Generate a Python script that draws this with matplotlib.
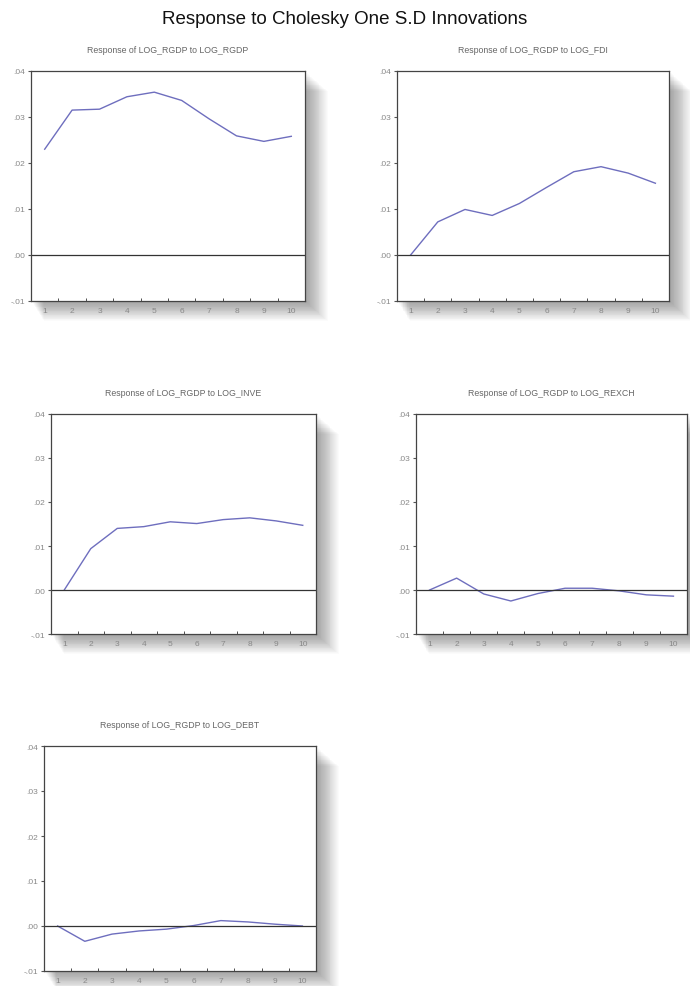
import matplotlib
matplotlib.use("Agg")
import matplotlib.pyplot as plt
from matplotlib.patches import Rectangle
import numpy as np

plt.rcParams['font.family'] = ['Liberation Sans Narrow', 'Liberation Sans', 'DejaVu Sans']

# data ------------------------------------------------------------------------
periods = np.arange(1, 11)
titles = ["Response of LOG_RGDP to LOG_RGDP",
          "Response of LOG_RGDP to LOG_FDI",
          "Response of LOG_RGDP to LOG_INVE",
          "Response of LOG_RGDP to LOG_REXCH",
          "Response of LOG_RGDP to LOG_DEBT"]
rgdp = [0.0230, 0.0315, 0.0317, 0.0344, 0.0354, 0.0336, 0.0296, 0.0259, 0.0247, 0.0258]
fdi = [0.0000, 0.0072, 0.0099, 0.0086, 0.0112, 0.0147, 0.0181, 0.0192, 0.0178, 0.0156]
inve = [0.0000, 0.0094, 0.0140, 0.0144, 0.0155, 0.0151, 0.0160, 0.0164, 0.0157, 0.0147]
rexch = [0.0000, 0.0027, -0.0009, -0.0025, -0.0008, 0.0004, 0.0004, -0.0002, -0.0011, -0.0014]
debt = [0.0000, -0.0034, -0.0018, -0.0011, -0.0007, 0.0001, 0.0012, 0.0009, 0.0004, 0.0000]
series = [rgdp, fdi, inve, rexch, debt]
yticks = [-0.01, 0.0, 0.01, 0.02, 0.03, 0.04]
ytick_labels = ["-.01", ".00", ".01", ".02", ".03", ".04"]

# panel boxes in pixels (left, top, right, bottom) -----------------------------
W, H = 690, 987
boxes = [(31, 72, 305, 302), (397, 72, 669, 302),
         (51, 415, 316, 635), (416, 415, 687, 635),
         (44, 747, 316, 972)]

fig = plt.figure(figsize=(W / 100, H / 100), dpi=100)
fig.text(0.5, 1 - 19 / H, "Response to Cholesky One S.D Innovations",
         ha='center', va='center', fontsize=13.5, color='#111111')

line_col = '#6e6ebe'
for (l, t, r, b), name, vals in zip(boxes, titles, series):
    # soft drop shadow --------------------------------------------------------
    for k in range(1, 26):
        fig.patches.append(Rectangle(((l + k * 0.5) / W, 1 - (b + k * 0.8) / H),
                                     (r - l + k * 0.4) / W, (b - t) / H,
                                     transform=fig.transFigure, facecolor='black',
                                     alpha=0.016, edgecolor='none', zorder=0))
    ax = fig.add_axes([l / W, 1 - b / H, (r - l) / W, (b - t) / H])
    ax.set_facecolor('white')
    ax.set_zorder(2)
    ax.plot(periods, vals, color=line_col, lw=1.0)
    ax.axhline(0, color='#333333', lw=0.9)
    ax.set_xlim(0.5, 10.5)
    ax.set_ylim(-0.01, 0.04)
    ax.set_yticks(yticks)
    ax.set_yticklabels(ytick_labels)
    ax.set_xticks(periods)
    ax.set_xticks(np.arange(0.5, 11, 1), minor=True)
    ax.tick_params(axis='x', which='major', length=0, labelsize=6,
                   labelcolor='#888888', pad=4)
    ax.tick_params(axis='x', which='minor', direction='in', length=2.5,
                   color='#333333')
    ax.tick_params(axis='y', direction='out', length=2.5, labelsize=6,
                   labelcolor='#888888', color='#555555', pad=1.5)
    for s in ax.spines.values():
        s.set_color('#444444')
        s.set_linewidth(0.9)
    ax.set_title(name, fontsize=6.3, color='#666666', pad=14)

fig.savefig("out.png", dpi=100, facecolor='white')
